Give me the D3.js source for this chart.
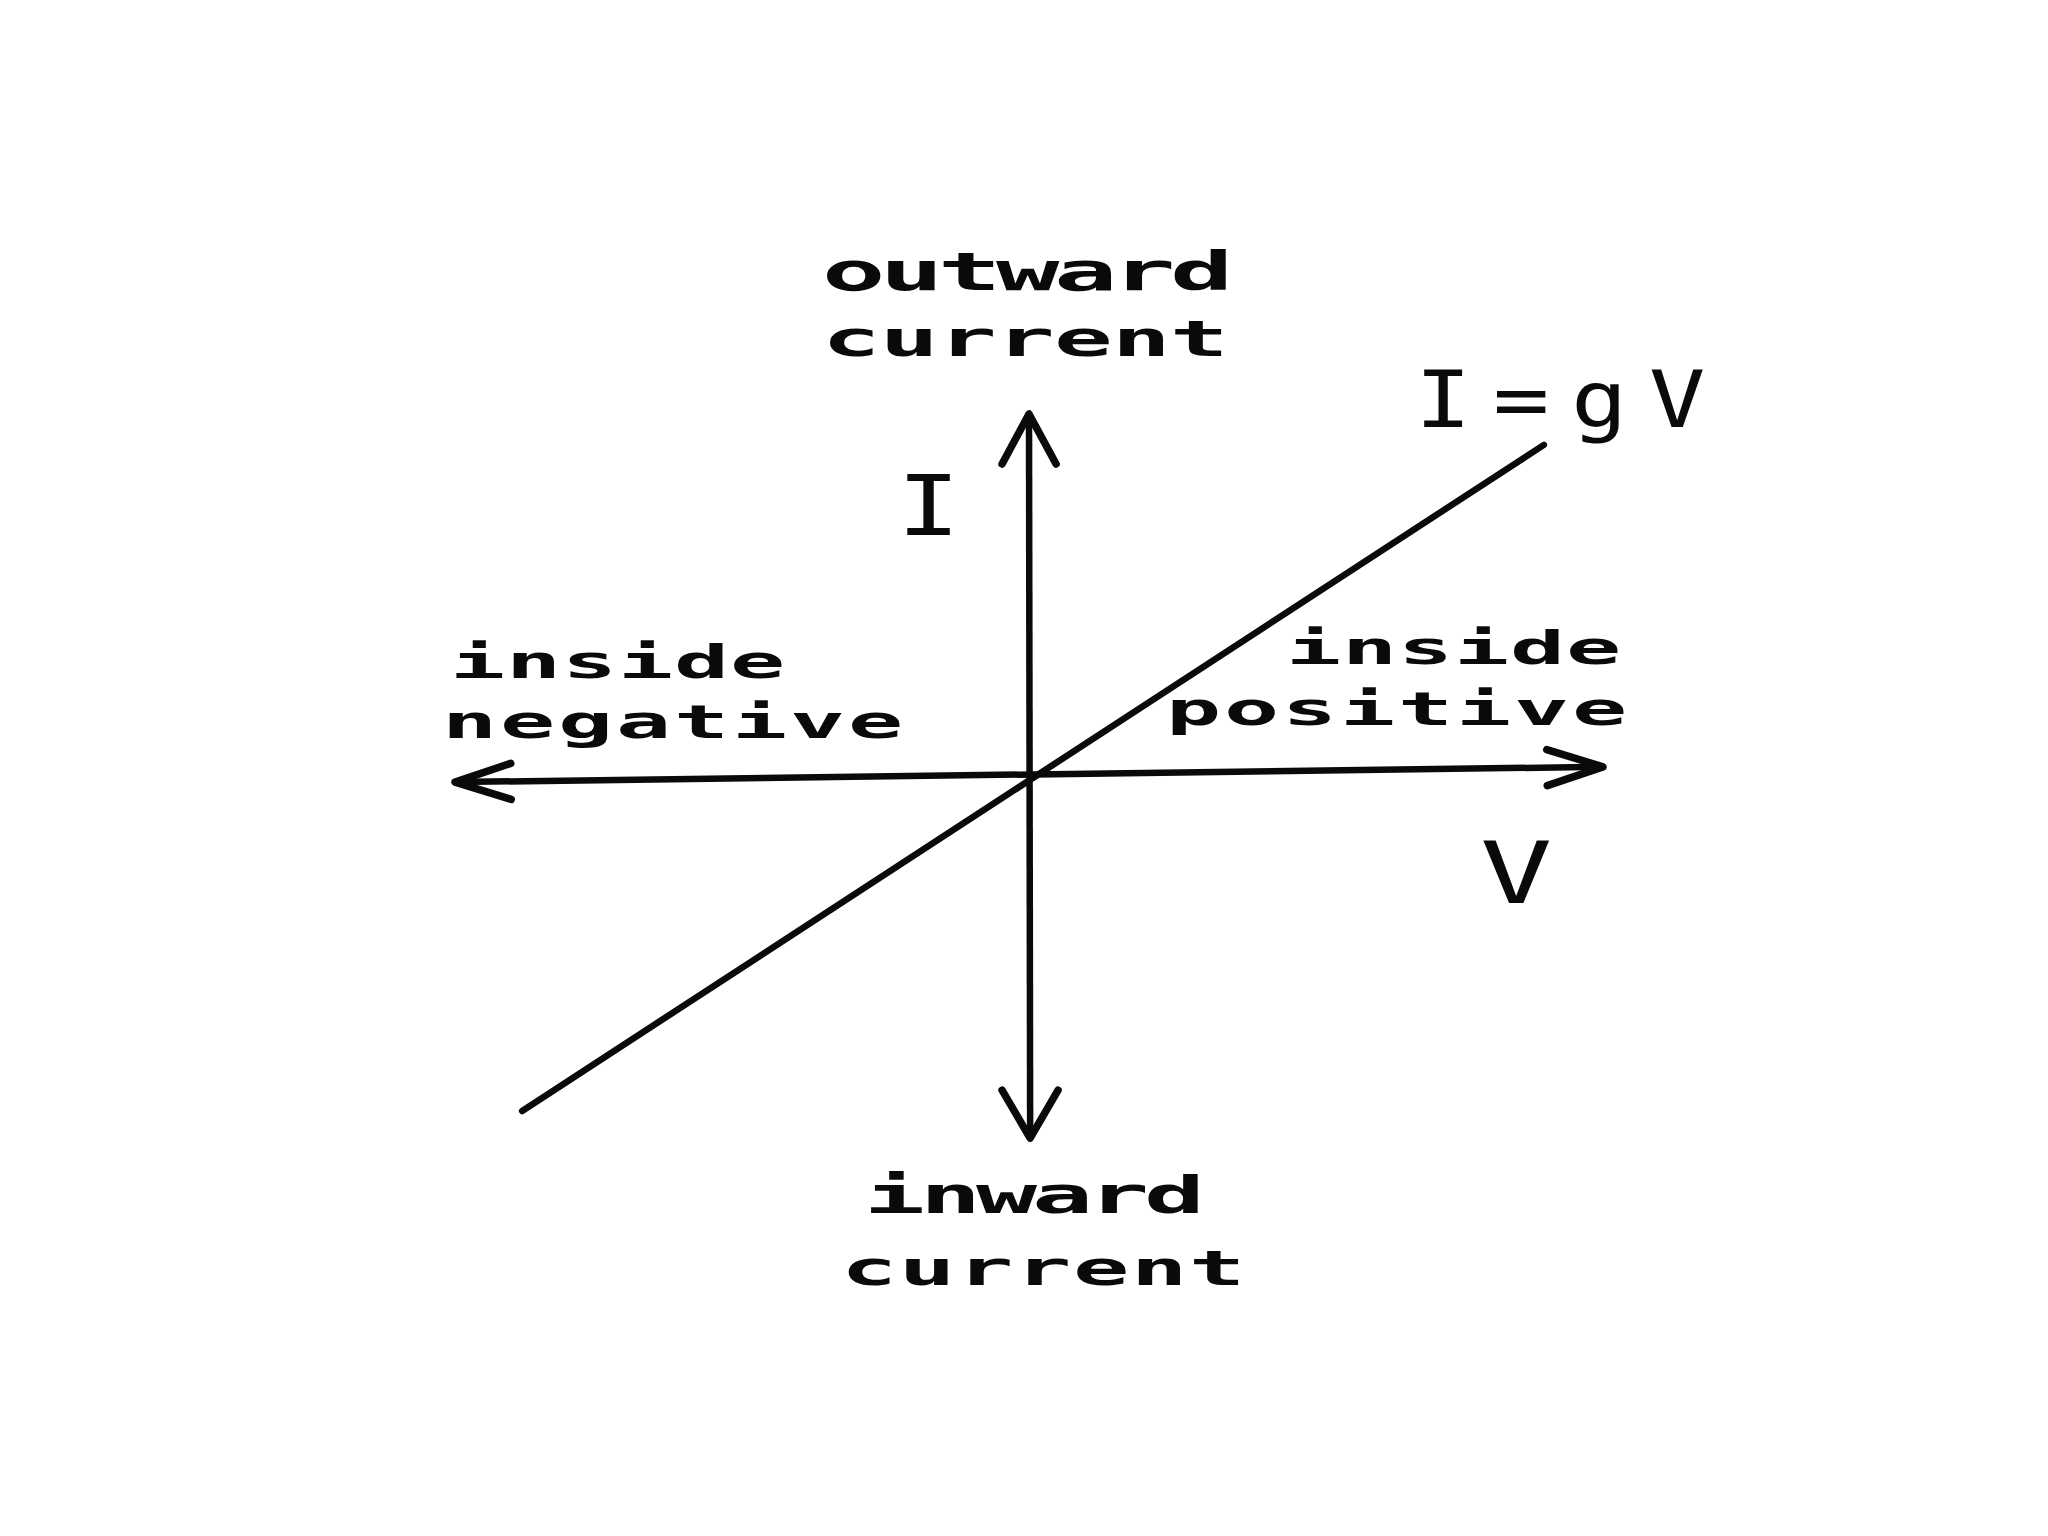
<!DOCTYPE html>
<html>
<head>
<meta charset="utf-8">
<script src="https://cdn.jsdelivr.net/npm/d3@7"></script>
<style>
  html, body { margin: 0; padding: 0; background: #fff; }
  svg { display: block; }
</style>
</head>
<body>
<div id="chart"></div>
<script>
// canvas
const width = 2048;
const height = 1536;

// data (units are relative: V and I both run -1..1 along the axes)
const axisVEnds = [-1.0, 1.0];        // horizontal axis, left tip / right tip
const axisVTilt = [-0.014, 0.028];    // I value at each end (the scan is slightly tilted)
const axisIEnds = [1.0, -0.995];      // vertical axis, top tip / bottom tip
const lineV = [-0.883, 0.897];        // I = gV line end points
const lineI = [-0.92, 0.915];

const quadrantLabels = ["outward", "current", "inside", "negative", "inside", "positive", "inward", "current"];
const axisLabels = ["I", "V", "I=gV"];

const svg = d3.select("#chart")
  .append("svg")
  .attr("width", width)
  .attr("height", height);

const x = d3.scaleLinear().domain([-1, 1]).range([455, 1603]);
const y = d3.scaleLinear().domain([-1, 1]).range([1140, 414]);

const ink = "#0a0a0a";

// straight segments
const line = d3.line().x(d => x(d[0])).y(d => y(d[1]));

// horizontal axis
svg.append("path")
  .attr("d", line([[axisVEnds[0], axisVTilt[0]], [axisVEnds[1], axisVTilt[1]]]))
  .attr("stroke", ink).attr("stroke-width", 6.5).attr("fill", "none");

// vertical axis
svg.append("path")
  .attr("d", line([[0, axisIEnds[0]], [0.002, axisIEnds[1]]]))
  .attr("stroke", ink).attr("stroke-width", 6.5).attr("fill", "none");

// I = gV
svg.append("path")
  .attr("d", line([[lineV[0], lineI[0]], [lineV[1], lineI[1]]]))
  .attr("stroke", ink).attr("stroke-width", 6.5).attr("fill", "none")
  .attr("stroke-linecap", "round");

// open arrowheads: tip point, direction it points, back length and half width
function arrow(tip, from, len, half) {
  const tx = x(tip[0]), ty = y(tip[1]);
  const fx = x(from[0]), fy = y(from[1]);
  const dx = tx - fx, dy = ty - fy;
  const n = Math.hypot(dx, dy);
  const ux = dx / n, uy = dy / n;
  const bx = tx - ux * len, by = ty - uy * len;
  const p1 = [bx - uy * half, by + ux * half];
  const p2 = [bx + uy * half, by - ux * half];
  svg.append("path")
    .attr("d", `M${p1[0]},${p1[1]}L${tx},${ty}L${p2[0]},${p2[1]}`)
    .attr("stroke", ink).attr("stroke-width", 7.5).attr("fill", "none")
    .attr("stroke-linecap", "round").attr("stroke-linejoin", "round");
}
arrow([axisVEnds[0], axisVTilt[0]], [axisVEnds[1], axisVTilt[1]], 56, 18);
arrow([axisVEnds[1], axisVTilt[1]], [axisVEnds[0], axisVTilt[0]], 56, 18);
arrow([0, axisIEnds[0]], [0.002, axisIEnds[1]], 50, 27);
arrow([0.002, axisIEnds[1]], [0, axisIEnds[0]], 48, 28);

// typewriter-style labels, left edge + baseline in pixels
function label(text, px, py, opts) {
  const o = Object.assign({ size: 50, sx: 1.95, pitch: 58, weight: "bold" }, opts);
  const natural = 0.602 * o.size;
  const ls = o.pitch / o.sx - natural;
  svg.append("text")
    .attr("transform", `translate(${px},${py}) scale(${o.sx},1)`)
    .attr("font-family", "'DejaVu Sans Mono', monospace")
    .attr("font-size", o.size)
    .attr("font-weight", o.weight)
    .attr("letter-spacing", ls)
    .attr("fill", ink)
    .text(text);
}

label(quadrantLabels[0], 822, 290, { size: 54 });
label(quadrantLabels[1], 822, 356, { size: 50 });
label(quadrantLabels[2], 450, 678, { size: 47, pitch: 56 });
label(quadrantLabels[3], 442, 738, { size: 47 });
label(quadrantLabels[4], 1286, 664, { size: 47, pitch: 56 });
label(quadrantLabels[5], 1166, 725, { size: 47 });
label(quadrantLabels[6], 864, 1213, { size: 52, pitch: 56 });
label(quadrantLabels[7], 841, 1285, { size: 48 });

// big thin labels
label(axisLabels[0], 897, 535, { size: 84, sx: 1.25, pitch: 60, weight: "normal" });
label(axisLabels[1], 1480, 903, { size: 86, sx: 1.4, pitch: 70, weight: "normal" });
label(axisLabels[2], 1415, 427, { size: 78, sx: 1.2, pitch: 78, weight: "normal" });
</script>
</body>
</html>
